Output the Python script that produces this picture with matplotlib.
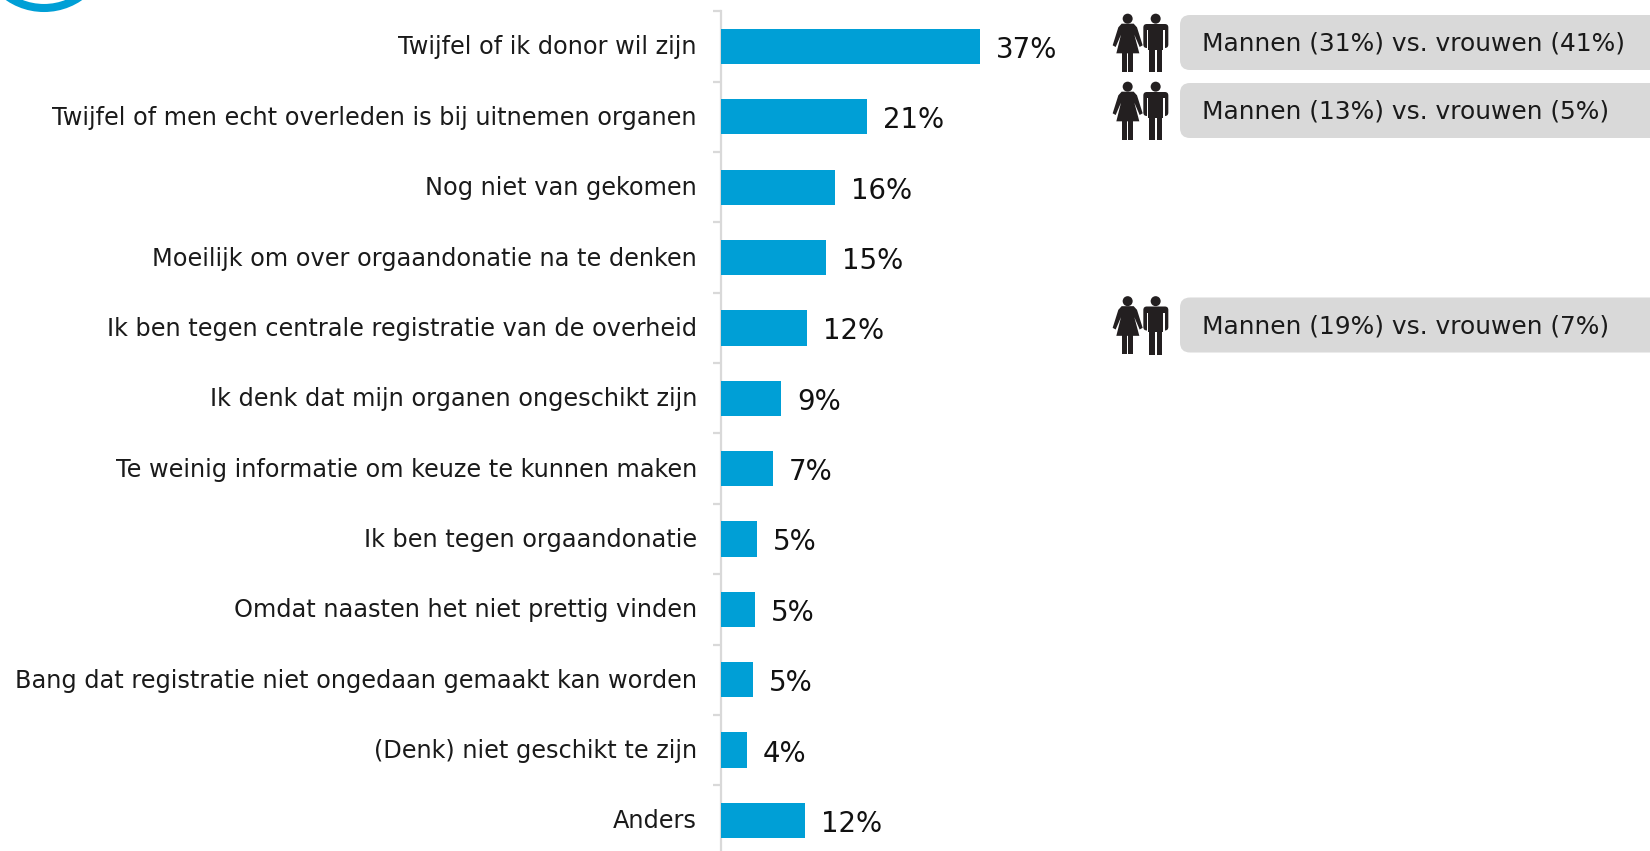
import matplotlib
matplotlib.use("Agg")
import matplotlib.pyplot as plt
from matplotlib.patches import Circle, FancyBboxPatch, Polygon, Rectangle
from matplotlib.transforms import ScaledTranslation

categories = [
    "Twijfel of ik donor wil zijn",
    "Twijfel of men echt overleden is bij uitnemen organen",
    "Nog niet van gekomen",
    "Moeilijk om over orgaandonatie na te denken",
    "Ik ben tegen centrale registratie van de overheid",
    "Ik denk dat mijn organen ongeschikt zijn",
    "Te weinig informatie om keuze te kunnen maken",
    "Ik ben tegen orgaandonatie",
    "Omdat naasten het niet prettig vinden",
    "Bang dat registratie niet ongedaan gemaakt kan worden",
    "(Denk) niet geschikt te zijn",
    "Anders",
]
values = [36.9, 20.9, 16.3, 15.0, 12.3, 8.6, 7.4, 5.2, 4.9, 4.6, 3.7, 12.0]
value_labels = ["37%", "21%", "16%", "15%", "12%", "9%", "7%", "5%", "5%", "5%", "4%", "12%"]

note_rows = [0, 1, 4]
note_texts = [
    "Mannen (31%) vs. vrouwen (41%)",
    "Mannen (13%) vs. vrouwen (5%)",
    "Mannen (19%) vs. vrouwen (7%)",
]
note_centers = [42.5, 110.5, 325]

W, H = 1650, 851
BLUE = "#009fd6"
GREY = "#d9d9d9"
TEXT = "#1a1a1a"

plt.rcParams["font.family"] = "DejaVu Sans"
fig = plt.figure(figsize=(W / 100, H / 100), dpi=100)

# axes placed in pixels: one row is 70.36 px, one percent 7.03 px
row_h = 70.36
top = 11.3
left = 720.5
ax = fig.add_axes([left / W, (H - top - row_h * 12) / H, 7.03 * 50 / W, row_h * 12 / H])
ax.barh(range(len(values)), values, height=0.5, color=BLUE, zorder=3)
ax.set_xlim(0, 50)
ax.set_ylim(11.5, -0.5)
ax.patch.set_alpha(0)

for s in ["top", "right", "bottom"]:
    ax.spines[s].set_visible(False)
ax.spines["left"].set_color(GREY)
ax.spines["left"].set_linewidth(1.6)
ax.set_xticks([])
ax.set_yticks([i - 0.5 for i in range(len(values) + 1)])
ax.set_yticklabels([])
ax.tick_params(axis="y", length=6, width=1.6, color=GREY)
ax.set_yticks(range(len(values)), minor=True)
ax.set_yticklabels(categories, minor=True, fontsize=17.3, color=TEXT)
ax.tick_params(axis="y", which="minor", length=0, pad=17)
up = ScaledTranslation(0, 1.5 / 100, fig.dpi_scale_trans)
for lab in ax.get_yticklabels(minor=True):
    lab.set_transform(lab.get_transform() + up)

for i, v in enumerate(values):
    ax.annotate(value_labels[i], (v, i), xytext=(11.5, -2.5), textcoords="offset points",
                ha="left", va="center", fontsize=19.9, color="#111111")

# overlay in picture pixels for the logo arc, icons and note boxes
ov = fig.add_axes([0, 0, 1, 1])
ov.set_xlim(0, W)
ov.set_ylim(H, 0)
ov.axis("off")
ov.patch.set_alpha(0)

ov.add_patch(Circle((44, -55), 63, fill=False, ec=BLUE, lw=5.8))


def person_icon(x0, y0):
    # shapes traced in 3x units, so everything goes through p()
    c = "#231f20"

    def p(x, y):
        return (x0 + x / 3, y0 + y / 3)

    def box(x1, y1, x2, y2, col=c):
        ov.add_patch(Rectangle(p(x1, y1), (x2 - x1) / 3, (y2 - y1) / 3, color=col, lw=0))

    # woman
    ov.add_patch(Circle(p(68, 32), 5, color=c, lw=0))
    woman = [(50, 47), (86, 47), (96, 58), (113, 112), (104, 117), (88, 80), (103, 136),
             (34, 136), (48, 80), (32, 117), (23, 112), (40, 58)]
    ov.add_patch(Polygon([p(x, y) for x, y in woman], color=c, lw=0))
    box(51, 130, 65, 192)
    box(70, 130, 84, 192)
    # man
    ov.add_patch(Circle(p(152, 32), 5, color=c, lw=0))
    ov.add_patch(FancyBboxPatch(p(115, 48), 75 / 3, 72 / 3, boxstyle="round,pad=0,rounding_size=3.5",
                                color=c, lw=0))
    box(125, 66, 130, 122, "white")
    box(175, 66, 180, 122, "white")
    box(130, 60, 175, 125)
    box(133, 120, 150, 192)
    box(155, 120, 172, 192)


for row, yc, txt in zip(note_rows, note_centers, note_texts):
    ov.add_patch(FancyBboxPatch((1180, yc - 27.5), 500, 55, boxstyle="round,pad=0,rounding_size=10",
                                fc=GREY, ec="none", clip_on=True))
    ov.text(1202, yc + 1.5, txt, ha="left", va="center", fontsize=17.9, color=TEXT)
    person_icon(1105, yc - 34.5)

fig.savefig("out.png", dpi=100)
